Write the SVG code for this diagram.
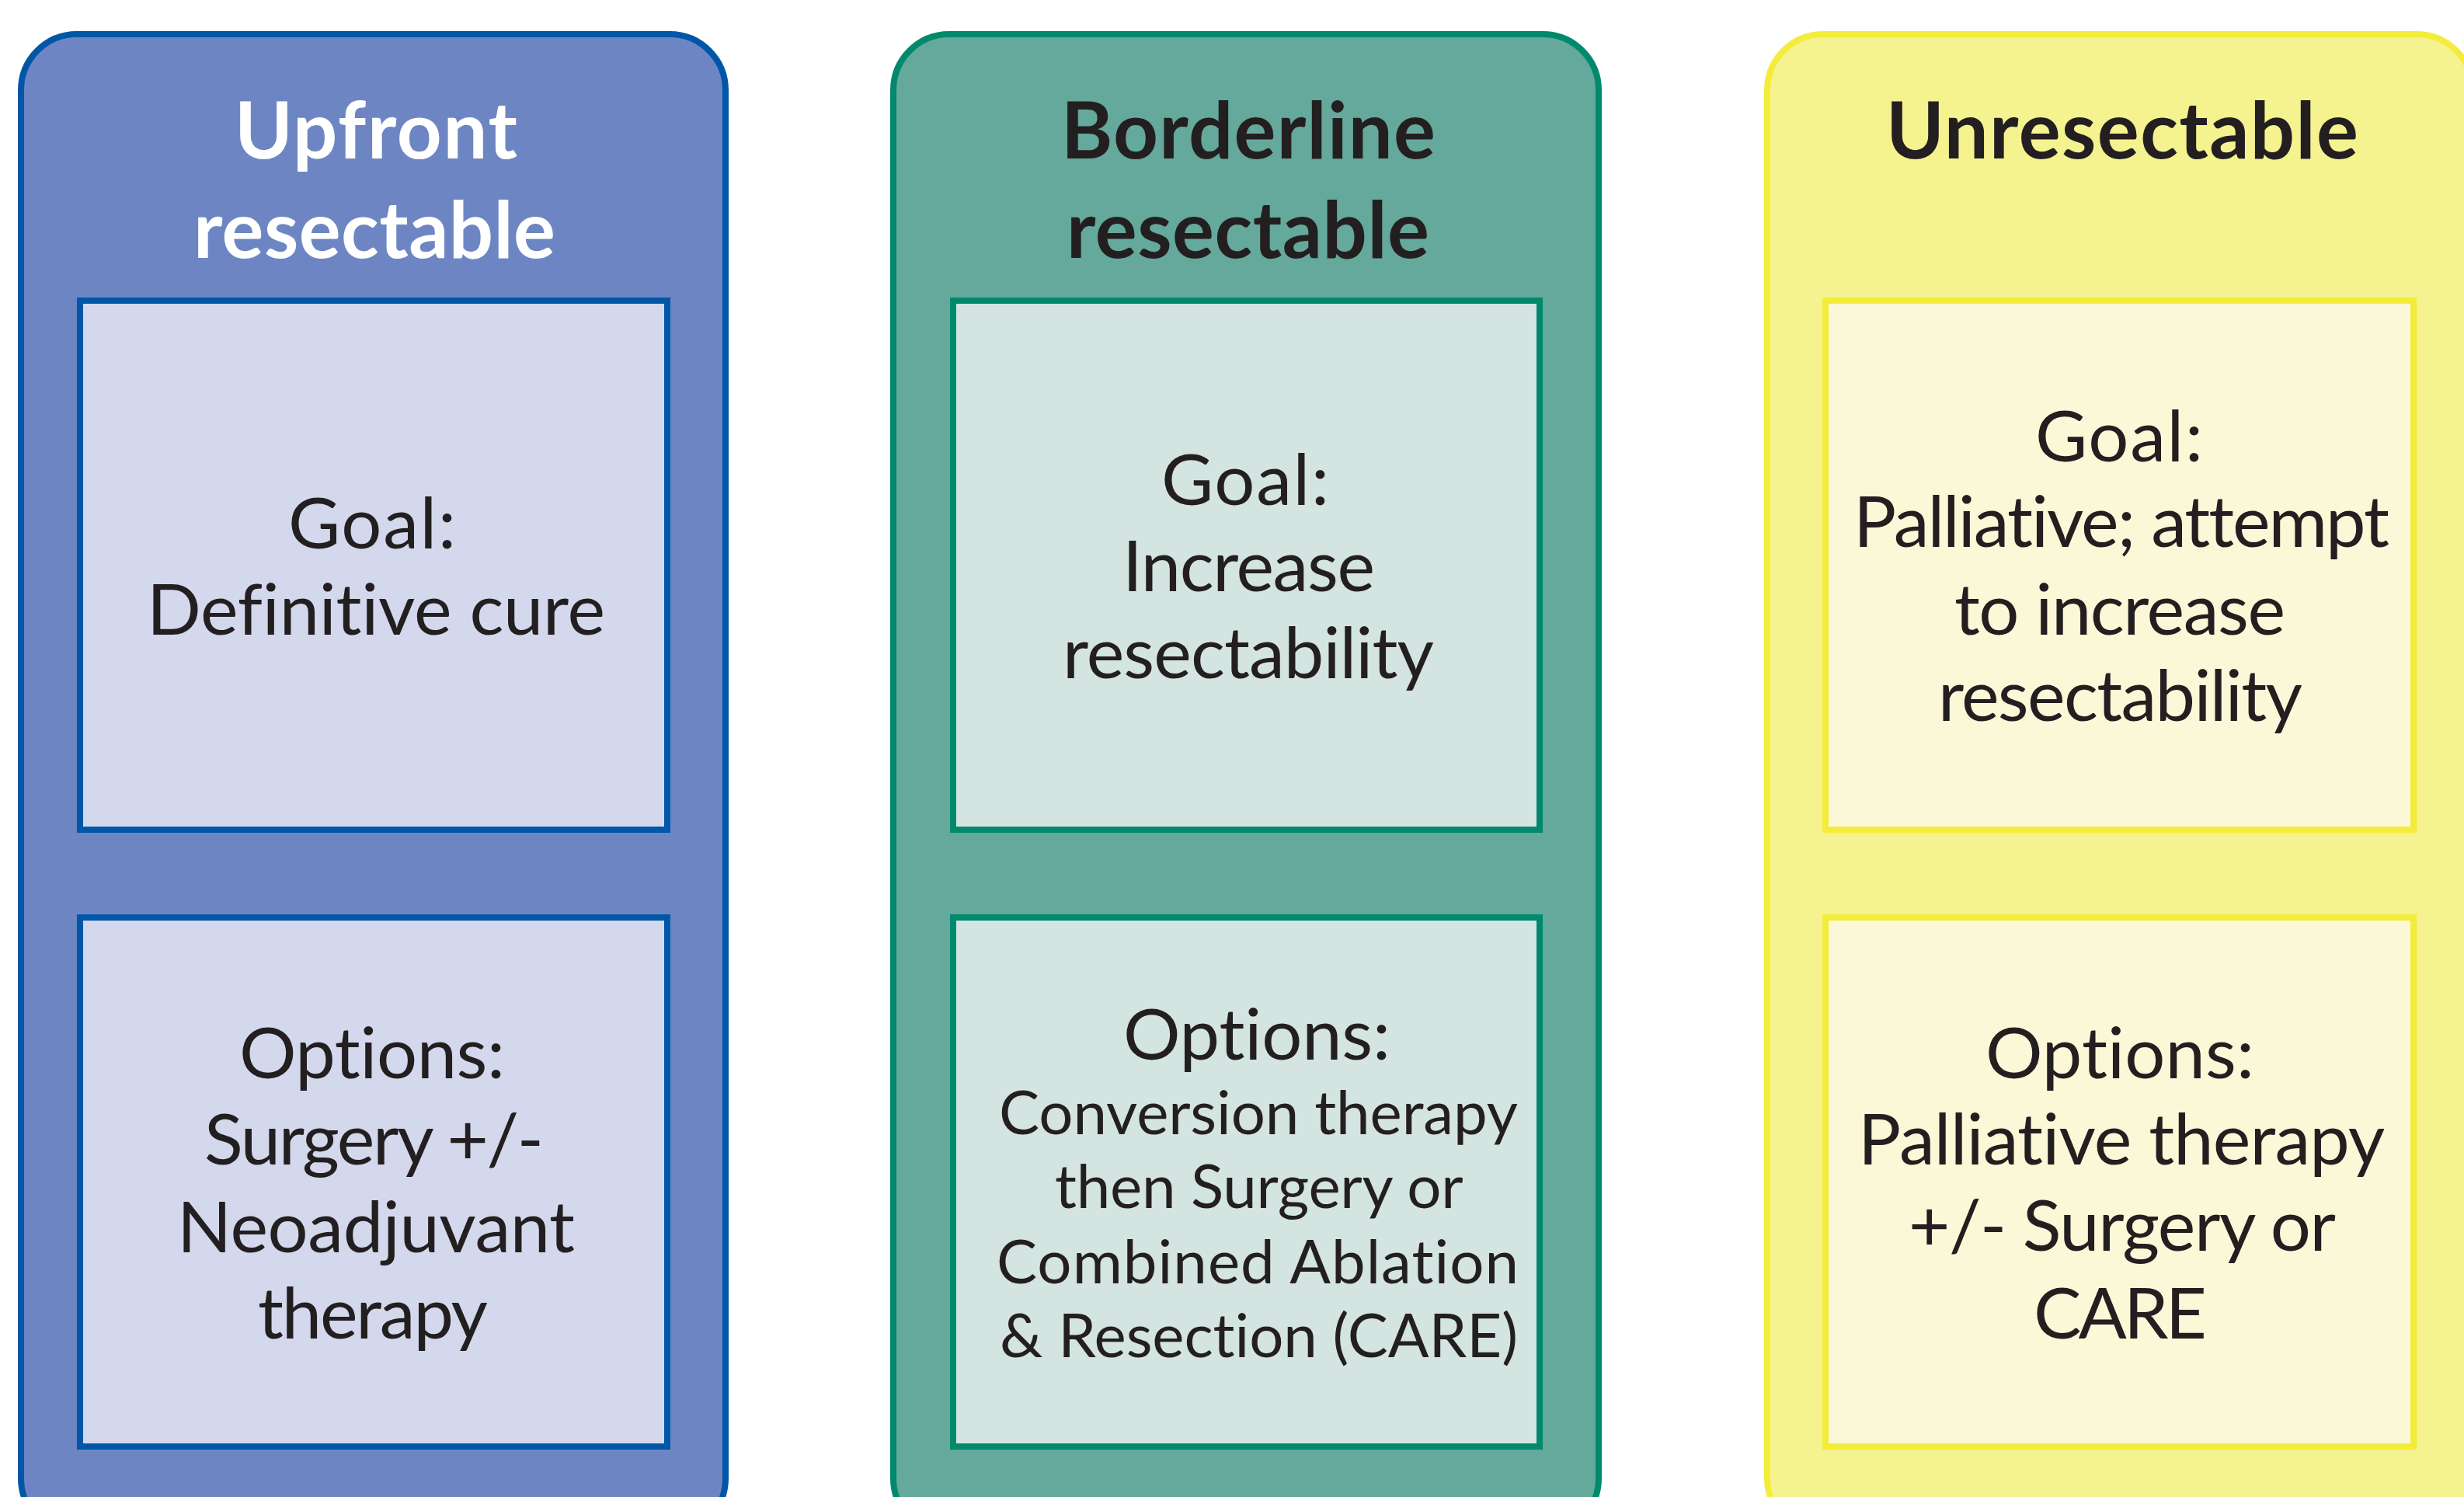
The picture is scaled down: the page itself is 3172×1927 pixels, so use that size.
<svg xmlns="http://www.w3.org/2000/svg" width="3172" height="1927" viewBox="0 0 3172 1927">
  <style>
    text { font-variant-ligatures: none; }
    .panel { stroke-width: 8; }
    .card { stroke-width: 8; }
    .title { font-family: Lato, "Open Sans", "Liberation Sans", sans-serif; font-weight: 700; font-size: 101px; }
    .body { font-family: Lato, "Open Sans", "Liberation Sans", sans-serif; font-weight: 400; font-size: 92px; fill: #231f20; }
    .small { font-size: 78px; }
    .blue .panel { fill: #6d86c3; stroke: #0057a8; }
    .blue .card { fill: #d3d8ec; stroke: #0057a8; }
    .green .panel { fill: #64a99b; stroke: #00896c; }
    .green .card { fill: #d4e4e0; stroke: #00896c; }
    .yellow .panel { fill: #f5f290; stroke: #f4ec3b; }
    .yellow .card { fill: #fbf8d8; stroke: #f4ec3b; }
  </style>
  <rect width="3172" height="1927" fill="#ffffff"/>

  <!-- Column 1: upfront resectable -->
  <g id="upfront-resectable" class="blue">
    <rect class="panel" x="27" y="44" width="907" height="1931" rx="72" ry="72"/>
    <text class="title" fill="#ffffff">
      <tspan x="302" y="204" textLength="364">Upfront</tspan>
      <tspan x="249" y="332" textLength="466">resectable</tspan>
    </text>
    <g id="upfront-goal">
      <rect class="card" x="103" y="387" width="756" height="681"/>
      <text class="body">
        <tspan x="371" y="706" textLength="216">Goal:</tspan>
        <tspan x="189" y="817" textLength="590">Definitive cure</tspan>
      </text>
    </g>
    <g id="upfront-options">
      <rect class="card" x="103" y="1181" width="756" height="681"/>
      <text class="body">
        <tspan x="308" y="1388" textLength="342">Options:</tspan>
        <tspan x="263" y="1499" textLength="437">Surgery +/-</tspan>
        <tspan x="228" y="1612" textLength="512">Neoadjuvant</tspan>
        <tspan x="332" y="1723" textLength="296">therapy</tspan>
      </text>
    </g>
  </g>

  <!-- Column 2: borderline resectable -->
  <g id="borderline-resectable" class="green">
    <rect class="panel" x="1150" y="44" width="908" height="1931" rx="72" ry="72"/>
    <text class="title" fill="#231f20">
      <tspan x="1366" y="204" textLength="482">Borderline</tspan>
      <tspan x="1373" y="332" textLength="467">resectable</tspan>
    </text>
    <g id="borderline-goal">
      <rect class="card" x="1227" y="387" width="755" height="681"/>
      <text class="body">
        <tspan x="1495" y="650" textLength="216">Goal:</tspan>
        <tspan x="1445" y="761" textLength="325">Increase</tspan>
        <tspan x="1368" y="873" textLength="478">resectability</tspan>
      </text>
    </g>
    <g id="borderline-options">
      <rect class="card" x="1227" y="1181" width="755" height="681"/>
      <text class="body">
        <tspan x="1446" y="1364" textLength="344">Options:</tspan>
      </text>
      <text class="body small">
        <tspan x="1286" y="1460" textLength="666">Conversion therapy</tspan>
        <tspan x="1358" y="1555" textLength="524">then Surgery or</tspan>
        <tspan x="1283" y="1652" textLength="672">Combined Ablation</tspan>
        <tspan x="1287" y="1747" textLength="667">&amp; Resection (CARE)</tspan>
      </text>
    </g>
  </g>

  <!-- Column 3: unresectable -->
  <g id="unresectable" class="yellow">
    <rect class="panel" x="2275" y="44" width="908" height="1931" rx="72" ry="72"/>
    <text class="title" fill="#231f20">
      <tspan x="2428" y="204" textLength="608">Unresectable</tspan>
    </text>
    <g id="unresectable-goal">
      <rect class="card" x="2350" y="387" width="757" height="681"/>
      <text class="body">
        <tspan x="2620" y="594" textLength="216">Goal:</tspan>
        <tspan x="2386" y="704" textLength="690">Palliative; attempt</tspan>
        <tspan x="2516" y="817" textLength="426">to increase</tspan>
        <tspan x="2495" y="928" textLength="469">resectability</tspan>
      </text>
    </g>
    <g id="unresectable-options">
      <rect class="card" x="2350" y="1181" width="757" height="681"/>
      <text class="body">
        <tspan x="2556" y="1388" textLength="346">Options:</tspan>
        <tspan x="2392" y="1499" textLength="676">Palliative therapy</tspan>
        <tspan x="2457" y="1610" textLength="548">+/- Surgery or</tspan>
        <tspan x="2618" y="1723" textLength="223">CARE</tspan>
      </text>
    </g>
  </g>
</svg>
